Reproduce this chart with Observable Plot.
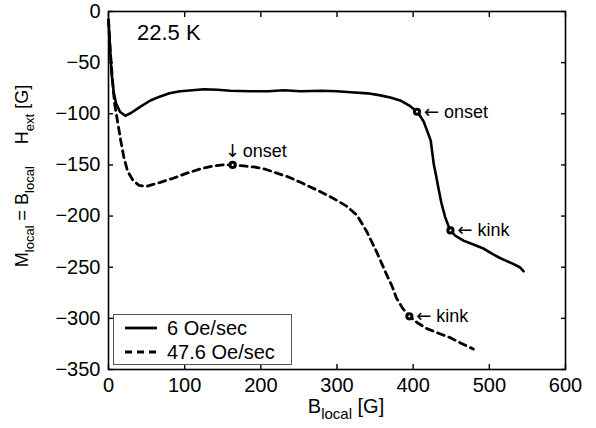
<!DOCTYPE html>
<html>
<head>
<meta charset="utf-8">
<script src="https://cdn.jsdelivr.net/npm/d3@7"></script>
<script src="https://cdn.jsdelivr.net/npm/@observablehq/plot@0.6"></script>
<style>
  html, body { margin: 0; padding: 0; background: #fff; }
  #chart svg { font-family: "Liberation Sans", Arial, sans-serif; }
</style>
</head>
<body>
<div id="chart"></div>
<script>
// Series: 6 Oe/sec (solid)
const slowX = [0,2,4,7,10,15,22,30,42,55,68,80,94,110,125,143,160,186,210,230,252,280,300,318,340,357,370,383,395,405,410,414,418,423,427,430,433,437,442,446,449,455,466,480,493,504,514,523,532,540,545];
const slowY = [-8,-35,-60,-80,-90,-98,-102,-99,-93,-87,-83,-80,-78,-77,-76,-76.5,-77.5,-78,-78,-77,-78,-77.5,-78,-79,-80,-82,-84,-87,-92,-98,-103,-108,-116,-126,-149,-160,-172,-187,-201,-209,-214,-219,-224,-228,-232,-237,-241,-244,-247,-250,-254];
// Series: 47.6 Oe/sec (dashed)
const fastX = [0,2,5,8,12,16,20,25,32,40,50,68,85,103,120,138,150,163,178,191,205,221,237,252,275,296,312,326,339,352,365,372,378,386,395,405,418,435,449,465,479];
const fastY = [-8,-35,-65,-90,-108,-126,-142,-156,-165,-170,-171,-167,-163,-158,-154,-151,-150,-150,-151,-152,-154,-158,-162,-167,-175,-183,-190,-199,-215,-235,-257,-268,-280,-290,-298,-304,-310,-315,-319,-325,-330];

// Marked points
const markX = [405, 449, 163, 395];
const markY = [-98, -214, -150, -298];
const markWord = ["onset", "kink", "onset", "kink"];
const markArrow = ["\u2190", "\u2190", "\u2193", "\u2190"];
const markSide = ["right", "right", "above", "right"];

const xTicks = [0,100,200,300,400,500,600];
const yTicks = [0,-50,-100,-150,-200,-250,-300,-350];
const seriesNames = ["6 Oe/sec", "47.6 Oe/sec"];
const titleText = "22.5 K";

const slow = slowX.map((x, i) => ({x, y: slowY[i]}));
const fast = fastX.map((x, i) => ({x, y: fastY[i]}));
const marks = markX.map((x, i) => ({x, y: markY[i], word: markWord[i], arrow: markArrow[i], side: markSide[i]}));
const rightMarks = marks.filter(d => d.side === "right");
const aboveMarks = marks.filter(d => d.side === "above");

const W = 596, H = 428;
const mL = 108, mR = 31, mT = 11, mB = 59;
const arrowFont = '"DejaVu Sans", sans-serif';

const svg = Plot.plot({
  width: W,
  height: H,
  marginLeft: mL,
  marginRight: mR,
  marginTop: mT,
  marginBottom: mB,
  style: {fontFamily: '"Liberation Sans", Arial, sans-serif', fontSize: "18px", color: "#000", background: "#fff", overflow: "visible"},
  x: {domain: [0, 600], ticks: xTicks},
  y: {domain: [-350, 0], ticks: yTicks},
  marks: [
    Plot.line(slow, {x: "x", y: "y", stroke: "#000", strokeWidth: 2.6}),
    Plot.line(fast, {x: "x", y: "y", stroke: "#000", strokeWidth: 2.8, strokeDasharray: "7,5"}),
    Plot.dot(marks, {x: "x", y: "y", r: 2.6, stroke: "#000", strokeWidth: 3, fill: "#fff"}),
    Plot.text(rightMarks, {x: "x", y: "y", text: "arrow", textAnchor: "start", dx: 7, dy: 0, fontSize: 18, fontFamily: arrowFont, fill: "#000"}),
    Plot.text(rightMarks, {x: "x", y: "y", text: "word", textAnchor: "start", dx: 27, dy: 0, fontSize: 18, fill: "#000"}),
    Plot.text(aboveMarks, {x: "x", y: "y", text: "arrow", textAnchor: "middle", dx: 0, dy: -14, fontSize: 18, fontFamily: arrowFont, fill: "#000"}),
    Plot.text(aboveMarks, {x: "x", y: "y", text: "word", textAnchor: "start", dx: 10, dy: -14, fontSize: 18, fill: "#000"}),
    Plot.frame({stroke: "#000", strokeWidth: 1.6}),
    Plot.axisX(xTicks, {anchor: "bottom", tickSize: -5, tickPadding: 13, label: null, fontSize: 20, strokeWidth: 1.4}),
    Plot.axisX(xTicks, {anchor: "top", tickSize: -5, tickFormat: () => "", label: null, strokeWidth: 1.4}),
    Plot.axisY(yTicks, {anchor: "left", tickSize: -5, tickPadding: 13, label: null, fontSize: 20, strokeWidth: 1.4}),
    Plot.axisY(yTicks, {anchor: "right", tickSize: -5, tickFormat: () => "", label: null, strokeWidth: 1.4})
  ]
});

document.getElementById("chart").appendChild(svg);

const s = d3.select(svg);

// Title annotation inside plot
s.append("text").attr("x", 137).attr("y", 40).attr("text-anchor", "start").attr("font-size", 22).attr("fill", "#000").text(titleText);

// X axis label with subscript
const xl = s.append("text").attr("x", 346).attr("y", 413).attr("text-anchor", "middle").attr("font-size", 20).attr("fill", "#000");
xl.append("tspan").text("B");
xl.append("tspan").attr("font-size", 15).attr("dy", 6).text("local");
xl.append("tspan").attr("dy", -6).text(" [G]");

// Y axis label with subscripts
const yl = s.append("text").attr("transform", "translate(28,176) rotate(-90)").attr("text-anchor", "middle").attr("font-size", 18).attr("fill", "#000");
yl.append("tspan").text("M");
yl.append("tspan").attr("font-size", 13).attr("dy", 6).text("local");
yl.append("tspan").attr("dy", -6).text(" = B");
yl.append("tspan").attr("font-size", 13).attr("dy", 6).text("local");
yl.append("tspan").attr("dy", -6).attr("dx", 22).text("H");
yl.append("tspan").attr("font-size", 13).attr("dy", 6).text("ext");
yl.append("tspan").attr("dy", -6).text(" [G]");

// Legend
const lg = s.append("g");
lg.append("rect").attr("x", 113.5).attr("y", 314.5).attr("width", 178).attr("height", 50).attr("fill", "#fff").attr("stroke", "#555").attr("stroke-width", 1);
const styles = [null, "7,5"];
seriesNames.forEach((name, i) => {
  const yy = 328 + i * 24;
  lg.append("line").attr("x1", 125).attr("x2", 157).attr("y1", yy).attr("y2", yy)
    .attr("stroke", "#000").attr("stroke-width", 2.8).attr("stroke-dasharray", styles[i]);
  lg.append("text").attr("x", 167).attr("y", yy).attr("dy", "0.35em").attr("text-anchor", "start").attr("font-size", 20).attr("fill", "#000").text(name);
});
</script>
</body>
</html>
